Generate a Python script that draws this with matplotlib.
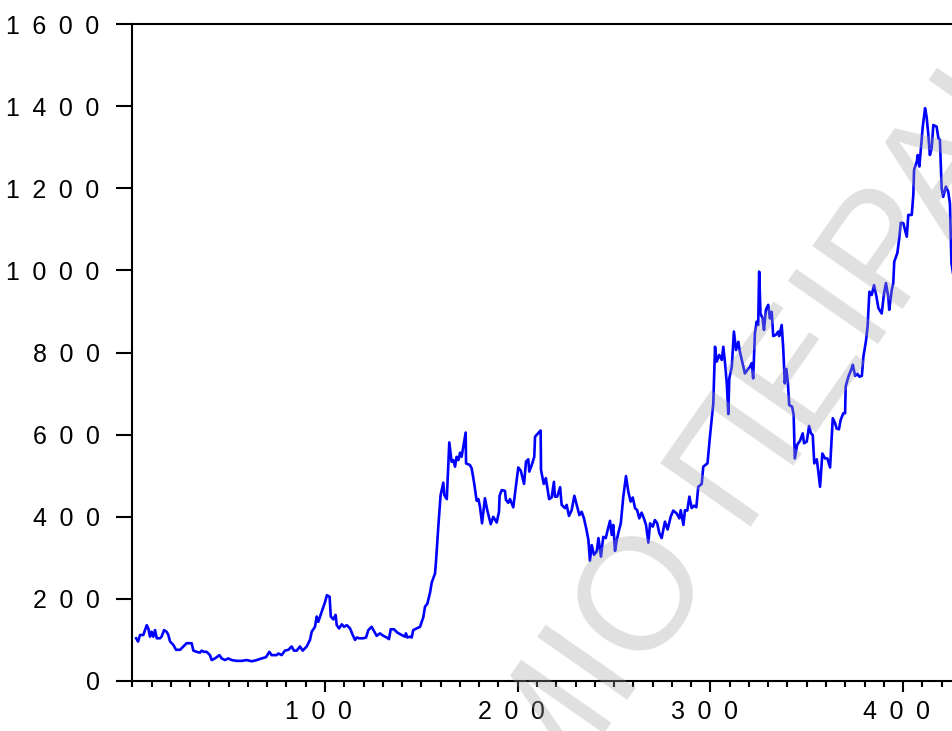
import numpy as np
import matplotlib
matplotlib.use('Agg')
import matplotlib.pyplot as plt
from matplotlib.ticker import FixedLocator, MultipleLocator, NullFormatter

plt.rcParams['font.family'] = ['Liberation Sans', 'DejaVu Sans']

# observation number and series value
obs = [2, 3, 4, 5.7, 7.5, 8.3, 9.2, 10, 10.9, 11.8, 12.7, 14.4, 15.2, 16.5, 17.8, 18.7, 19.6,
       21.3, 22.7, 24.8, 26.5, 28.2, 30.8, 31.7, 33.4, 35.1, 36, 37.2, 38.6, 40.3, 41.2, 42.9,
       45.2, 46.4, 48.1, 49.8, 51.6, 54.2, 56.8, 59.4, 62, 64.6, 67.1, 69.4, 71.1, 72.3, 74.9,
       75.8, 77.5, 79.2, 81, 82.7, 83.9, 85.3, 87, 88.4, 90.5, 92.2, 93.1, 94.8, 95.7, 96.5,
       98.3, 100, 101, 102.4, 103, 104.3, 105.5, 106.1, 107.3, 108.7, 109.9, 111.3, 113, 114.4,
       115.6, 116.5, 117.8, 119.9, 121.3, 122.5, 124.2, 125.6, 126.8, 128.5, 130.3, 132, 133.2,
       134.1, 135.8, 137.5, 139.8, 141.5, 142, 142.7, 144.1, 145, 145.8, 147.6, 149.3, 151,
       151.9, 153.1, 154.5, 155.4, 157.1, 157.6, 158.8, 160, 161.4, 161.9, 163.2, 164.5, 165.7,
       166.6, 167.5, 168.3, 169.2, 170.1, 170.9, 171.8, 173, 173.2, 175.2, 176.1, 177.3, 178.7,
       179.6, 180.4, 181.5, 183, 184.2, 186, 187.3, 189.1, 190.3, 190.6, 191.7, 193.4, 193.9,
       195.1, 196, 197.7, 200.3, 201.6, 203.3, 204.3, 205.5, 206, 207.3, 208.6, 209, 211.9,
       212.1, 213.5, 214.6, 216.3, 217.6, 218.8, 219.3, 220.5, 222, 222.8, 224.5, 225.4, 226.6,
       228, 229.4, 230.6, 232, 233.2, 234.4, 235.8, 236.7, 237.5, 238.4, 239.6, 241, 241.9,
       243.2, 244.4, 245.7, 246.5, 247.9, 248.8, 249.6, 250.5, 251.4, 252.2, 253.5, 254.8,
       256.2, 257.4, 258.6, 259.7, 260.9, 262, 263.1, 264.3, 265.5, 266.6, 267.8, 268.7, 270.1,
       271.2, 272.4, 273.5, 274.7, 276.4, 277.8, 279.4, 280.7, 282.5, 283.9, 284.6, 286, 286.8,
       288, 289.1, 290.3, 291.5, 292.7, 293.7, 295.5, 296.3, 298.5, 299.8, 301.5, 302.4, 303.3,
       304.6, 305.9, 306.7, 307.6, 308.5, 309.3, 309.8, 311.1, 312.2, 313.3, 314.5, 315.3,
       316.7, 317.9, 319.1, 320.5, 321.4, 322.2, 323.1, 324, 324.8, 325.3, 326, 327.1, 327.8,
       328.8, 330, 330.9, 331.8, 332.6, 334, 335.2, 335.7, 337, 337.8, 338.6, 339.4, 340.2,
       340.9, 342.4, 343.2, 343.8, 345, 346.5, 347.9, 348.6, 350, 351.2, 352.2, 353.1, 353.9,
       355.2, 356, 356.9, 358.1, 359.5, 360.7, 362.1, 363.5, 364.7, 365.5, 366.7, 367.6, 369,
       369.9, 370.2, 371.6, 373.4, 373.9, 375.1, 376.3, 377.3, 378.6, 379.4, 380.8, 381.6,
       382.5, 383.7, 384.9, 386, 387.2, 388.9, 390.1, 391.1, 392.3, 392.8, 394.1, 394.9, 395.4,
       397, 398, 398.8, 400.1, 401, 401.9, 402.7, 404.5, 405.3, 405.7, 407.1, 407.6, 408.4,
       409.1, 410.2, 411.4, 412.2, 413.1, 413.9, 414.8, 415.7, 417.4, 418.3, 419.1, 420, 420.8,
       422.2, 423.4, 424.3, 425.1, 426, 427]
price = [104, 96, 112, 112, 136, 128, 108, 120, 108, 124, 104, 104, 108, 124, 120, 112, 96,
         88, 76, 76, 84, 92, 92, 74, 71, 69, 74, 71, 71, 63, 51, 55,
         63, 55, 51, 55, 51, 49, 49, 51, 48, 51, 55, 58, 71, 63, 63,
         67, 63, 74, 76, 84, 74, 74, 84, 74, 84, 100, 120, 132, 157, 144,
         169, 192, 209, 205, 157, 150, 161, 136, 128, 138, 132, 136, 128, 112,
         100, 106, 104, 104, 106, 124, 132, 120, 110, 116, 110, 106, 102,
         126, 126, 118, 112, 108, 116, 106, 108, 106, 124, 128, 132, 155,
         181, 188, 215, 240, 262, 291, 376, 453, 483, 453, 443, 581, 534,
         538, 522, 546, 538, 556, 546, 571, 605, 530, 526, 518, 485, 439,
         443, 425, 384, 445, 416, 382, 400, 386, 412, 451, 465, 463, 441,
         434, 443, 423, 520, 512, 480, 534, 540, 510, 526, 546, 595, 610,
         514, 480, 494, 443, 447, 485, 449, 449, 472, 429, 421, 429, 402,
         416, 451, 429, 404, 412, 396, 366, 343, 293, 331, 307, 315, 348,
         303, 351, 348, 364, 390, 356, 380, 317, 343, 360, 384, 449,
         499, 461, 437, 447, 421, 416, 396, 410, 396, 380, 337, 384, 376,
         392, 384, 360, 348, 388, 369, 400, 415, 408, 396, 416, 380, 416,
         415, 449, 421, 427, 423, 473, 480, 522, 530, 597, 676, 814, 778,
         794, 782, 814, 774, 725, 650, 737, 765, 851, 806, 826, 802,
         774, 749, 757, 765, 774, 737, 847, 875, 867, 997, 895, 883, 855,
         904, 916, 883, 899, 840, 843, 851, 840, 867, 810, 725, 760, 727,
         672, 668, 648, 542, 575, 585, 603, 579, 583, 621, 603, 599, 530,
         540, 510, 473, 554, 542, 542, 520, 640, 628, 615, 613, 636, 652,
         652, 717, 741, 762, 770, 743, 748, 741, 743, 790, 830, 865,
         948, 940, 964, 940, 908, 895, 944, 969, 936, 904, 952, 969, 1021,
         1042, 1078, 1116, 1115, 1098, 1082, 1135, 1135, 1184, 1245, 1265, 1281, 1253,
         1289, 1350, 1395, 1374, 1330, 1281, 1297, 1354, 1350, 1322, 1318, 1200, 1179,
         1204, 1192, 1163, 1017, 990, 1000]

y_ticks = [0, 200, 400, 600, 800, 1000, 1200, 1400, 1600]
x_ticks = [100, 200, 300, 400]

W, H = 952, 731
fig = plt.figure(figsize=(W / 100, H / 100), dpi=100)
ax = fig.add_axes([132.3 / W, 50 / H, 1 - 132.3 / W, 657 / H])

ax.plot(obs, price, color='#0000FF', lw=1.9, zorder=3)

ax.set_xlim(0, (W - 132.3) / 1.927)
ax.set_ylim(0, 1600)

for side in ['left', 'bottom', 'top']:
    ax.spines[side].set_linewidth(1.5)
ax.spines['right'].set_visible(False)

sp = '\u2002'
ax.yaxis.set_major_locator(FixedLocator(y_ticks))
ax.set_yticklabels([sp.join(str(v)) for v in y_ticks])
ax.xaxis.set_major_locator(FixedLocator(x_ticks))
ax.set_xticklabels([sp.join(str(v)) + sp for v in x_ticks])
ax.xaxis.set_minor_locator(MultipleLocator(10))
ax.xaxis.set_minor_formatter(NullFormatter())

ax.tick_params(axis='y', which='major', direction='out', length=11.5, width=1.5,
               pad=12, labelsize=18)
ax.tick_params(axis='x', which='major', direction='out', length=8, width=1.5,
               pad=6, labelsize=18)
ax.tick_params(axis='x', which='minor', direction='out', length=4.5, width=1.5)

# diagonal watermark across the plot
def to_fig(px, py):
    return px / W, 1 - py / H

wm = dict(fontsize=115, color='#A0A0A0', alpha=0.33, rotation=55,
          rotation_mode='anchor', va='baseline', zorder=5,
          family=['Liberation Sans', 'DejaVu Sans'])
fig.text(*to_fig(711, 562), 'ΠΑΝΕΠΙΣΤΗΜΙΟ', ha='right', **wm)
fig.text(*to_fig(737, 526), 'ΠΕΙΡΑΙΩΣ', ha='left', **wm)

fig.savefig('out.png', dpi=100)
